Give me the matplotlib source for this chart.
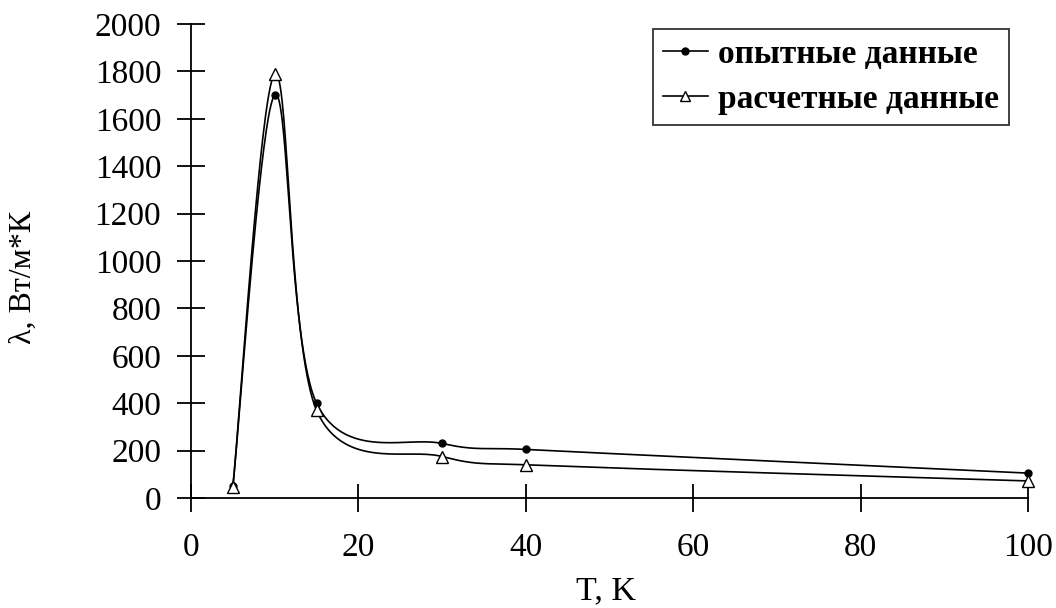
import numpy as np
import matplotlib
matplotlib.use("Agg")
import matplotlib.pyplot as plt
from matplotlib.lines import Line2D

T = [5, 10, 15, 30, 40, 100]
exp_vals = [50, 1700, 400, 230, 205, 105]
calc_vals = [45, 1790, 370, 175, 140, 72]
x_ticks = [0, 20, 40, 60, 80, 100]
y_ticks = [0, 200, 400, 600, 800, 1000, 1200, 1400, 1600, 1800, 2000]
labels = ["опытные данные", "расчетные данные"]

plt.rcParams['font.family'] = ['Liberation Serif', 'DejaVu Serif']

W, H = 1056, 608
fig = plt.figure(figsize=(W / 100, H / 100), dpi=100)
ax = fig.add_axes([191 / W, 110 / H, 837 / W, 474 / H])
ax.set_xlim(0, 100)
ax.set_ylim(0, 2000)


def smooth(ax, xs, ys, n=60):
    # Excel-like smoothed line: Catmull-Rom Bezier in display space,
    # control offsets clamped to half the segment length
    pts = ax.transData.transform(np.column_stack([xs, ys]))
    m = len(pts)
    P = np.vstack([pts[0], pts, pts[-1]])
    out = []
    for i in range(m - 1):
        p0, p1, p2, p3 = P[i], P[i + 1], P[i + 2], P[i + 3]
        l = np.linalg.norm(p2 - p1)
        d1 = (p2 - p0) / 6.0
        d2 = (p3 - p1) / 6.0
        lim = l / 2.0
        n1, n2 = np.linalg.norm(d1), np.linalg.norm(d2)
        if n1 > lim:
            d1 = d1 * lim / n1
        if n2 > lim:
            d2 = d2 * lim / n2
        c1 = p1 + d1
        c2 = p2 - d2
        t = np.linspace(0, 1, n)[:, None]
        seg = ((1 - t) ** 3) * p1 + 3 * ((1 - t) ** 2) * t * c1 + 3 * (1 - t) * t ** 2 * c2 + t ** 3 * p2
        out.append(seg if i == 0 else seg[1:])
    out = np.vstack(out)
    return ax.transData.inverted().transform(out)


for vals in (exp_vals, calc_vals):
    c = smooth(ax, T, vals)
    ax.plot(c[:, 0], c[:, 1], color='black', lw=1.2, clip_on=False)

ax.plot(T, exp_vals, linestyle='none', marker='o', ms=5, color='black', clip_on=False)
ax.plot(T, calc_vals, linestyle='none', marker='^', ms=8, mfc='white', mec='black', mew=1.0, clip_on=False)

for s in ('top', 'right'):
    ax.spines[s].set_visible(False)
for s in ('left', 'bottom'):
    ax.spines[s].set_linewidth(1.3)

ax.set_xticks(x_ticks)
ax.set_yticks(y_ticks)
ax.tick_params(direction='inout', length=20, width=1.3, labelsize=24)
ax.tick_params(axis='y', pad=11.5)
ax.tick_params(axis='x', pad=14.5)

fig.text(606 / W, 1 - 591 / H, "T, K", fontsize=24.5, ha='center', va='center')
fig.text(23 / W, 1 - 277 / H, "λ, Вт/м*К", fontsize=23, ha='center', va='center', rotation=90)

h1 = Line2D([], [], color='black', lw=1.2, marker='o', ms=5)
h2 = Line2D([], [], color='black', lw=1.2, marker='^', ms=7, mfc='white', mec='black')
leg = ax.legend([h1, h2], labels, loc='upper right', bbox_to_anchor=(1009 / W, 1 - 29 / H),
                bbox_transform=fig.transFigure,
                prop={'size': 24, 'weight': 'bold'}, frameon=True, fancybox=False,
                handlelength=1.36, handletextpad=0.3, borderpad=0.3, labelspacing=0.42,
                borderaxespad=0)
leg.get_frame().set_edgecolor('black')
leg.get_frame().set_linewidth(1.3)

fig.savefig("out.png", dpi=100)
